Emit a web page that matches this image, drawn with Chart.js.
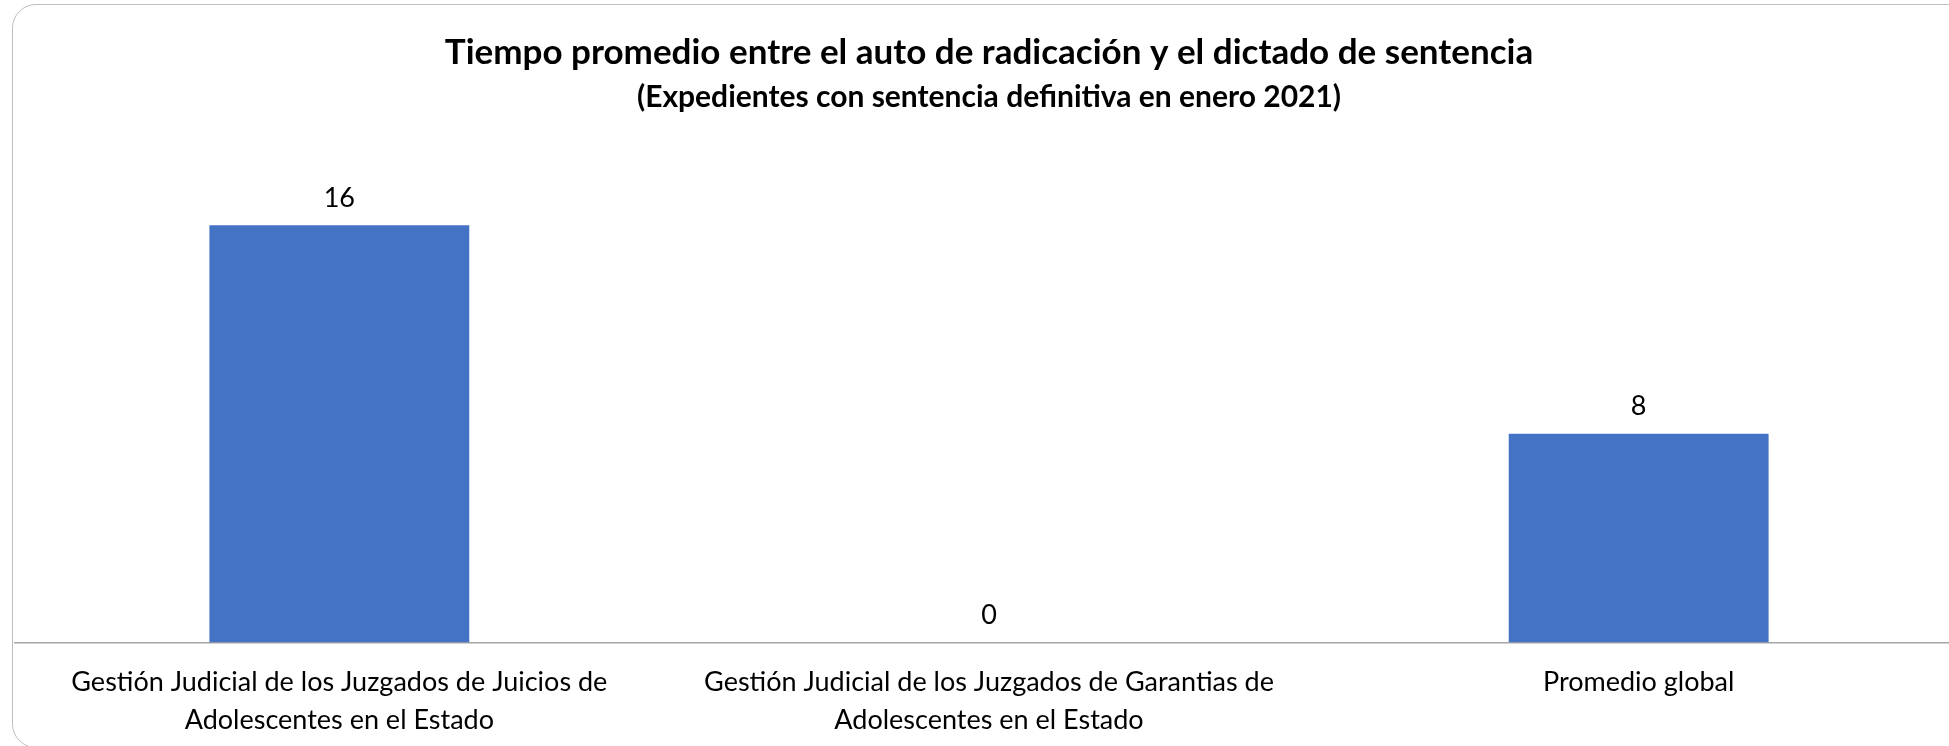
<!DOCTYPE html>
<html>
<head>
<meta charset="utf-8">
<script src="https://cdn.jsdelivr.net/npm/chart.js@4.4.1/dist/chart.umd.min.js"></script>
<style>
  html, body { margin: 0; padding: 0; background: #fff; overflow: hidden; width: 1949px; height: 746px; }
  #wrap { position: relative; width: 1949px; height: 746px; overflow: hidden; }
  #frame { position: absolute; left: 12px; top: 4px; width: 1960px; height: 744px; border: 1.5px solid #bfbfbf; border-radius: 24px; box-sizing: border-box; }
  #c { position: absolute; left: 0; top: 0; }
</style>
</head>
<body>
<div id="wrap">
  <div id="frame"></div>
  <canvas id="c" width="1990" height="774"></canvas>
</div>
<script>
const titleText = "Tiempo promedio entre el auto de radicación y el dictado de sentencia";
const subtitleText = "(Expedientes con sentencia definitiva en enero 2021)";
const categories = [
  ["Gestión Judicial de los Juzgados de Juicios de", "Adolescentes en el Estado"],
  ["Gestión Judicial de los Juzgados de Garantias de", "Adolescentes en el Estado"],
  ["Promedio global"]
];
const values = [16, 0, 8];
const yMin = 0;
const yMax = 18;

const FONT = "Lato, 'Open Sans', sans-serif";

const dataLabelPlugin = {
  id: 'dataLabels',
  afterDatasetsDraw(chart) {
    const ctx = chart.ctx;
    const meta = chart.getDatasetMeta(0);
    ctx.save();
    ctx.font = "27px " + FONT;
    ctx.fillStyle = "#000";
    ctx.textAlign = "center";
    ctx.textBaseline = "middle";
    meta.data.forEach((bar, i) => {
      ctx.fillText(String(chart.data.datasets[0].data[i]), bar.x, bar.y - 27);
    });
    ctx.restore();
  }
};

new Chart(document.getElementById('c'), {
  type: 'bar',
  data: {
    labels: categories,
    datasets: [{
      data: values,
      backgroundColor: '#4472C4',
      borderWidth: 0,
      barPercentage: 0.4,
      categoryPercentage: 1.0
    }]
  },
  options: {
    responsive: false,
    animation: false,
    devicePixelRatio: 1,
    layout: { padding: { left: 14.5, right: 26.5, top: 0, bottom: 14 } },
    plugins: {
      legend: { display: false },
      tooltip: { enabled: false },
      title: {
        display: true,
        text: titleText,
        color: '#000',
        font: { family: FONT, size: 35, weight: 'bold', lineHeight: 1.2 },
        padding: { top: 32, bottom: 4 }
      },
      subtitle: {
        display: true,
        text: subtitleText,
        color: '#000',
        font: { family: FONT, size: 30, weight: 'bold', lineHeight: 1.2 },
        padding: { top: 1, bottom: 58 }
      }
    },
    scales: {
      x: {
        grid: { display: false, drawTicks: false },
        border: { display: true, color: '#a6a6a6', width: 1.5 },
        ticks: {
          color: '#000',
          font: { family: FONT, size: 27, lineHeight: 1.4 },
          padding: 21,
          autoSkip: false,
          maxRotation: 0,
          minRotation: 0
        }
      },
      y: {
        display: false,
        min: yMin,
        max: yMax
      }
    }
  },
  plugins: [dataLabelPlugin]
});
</script>
</body>
</html>
